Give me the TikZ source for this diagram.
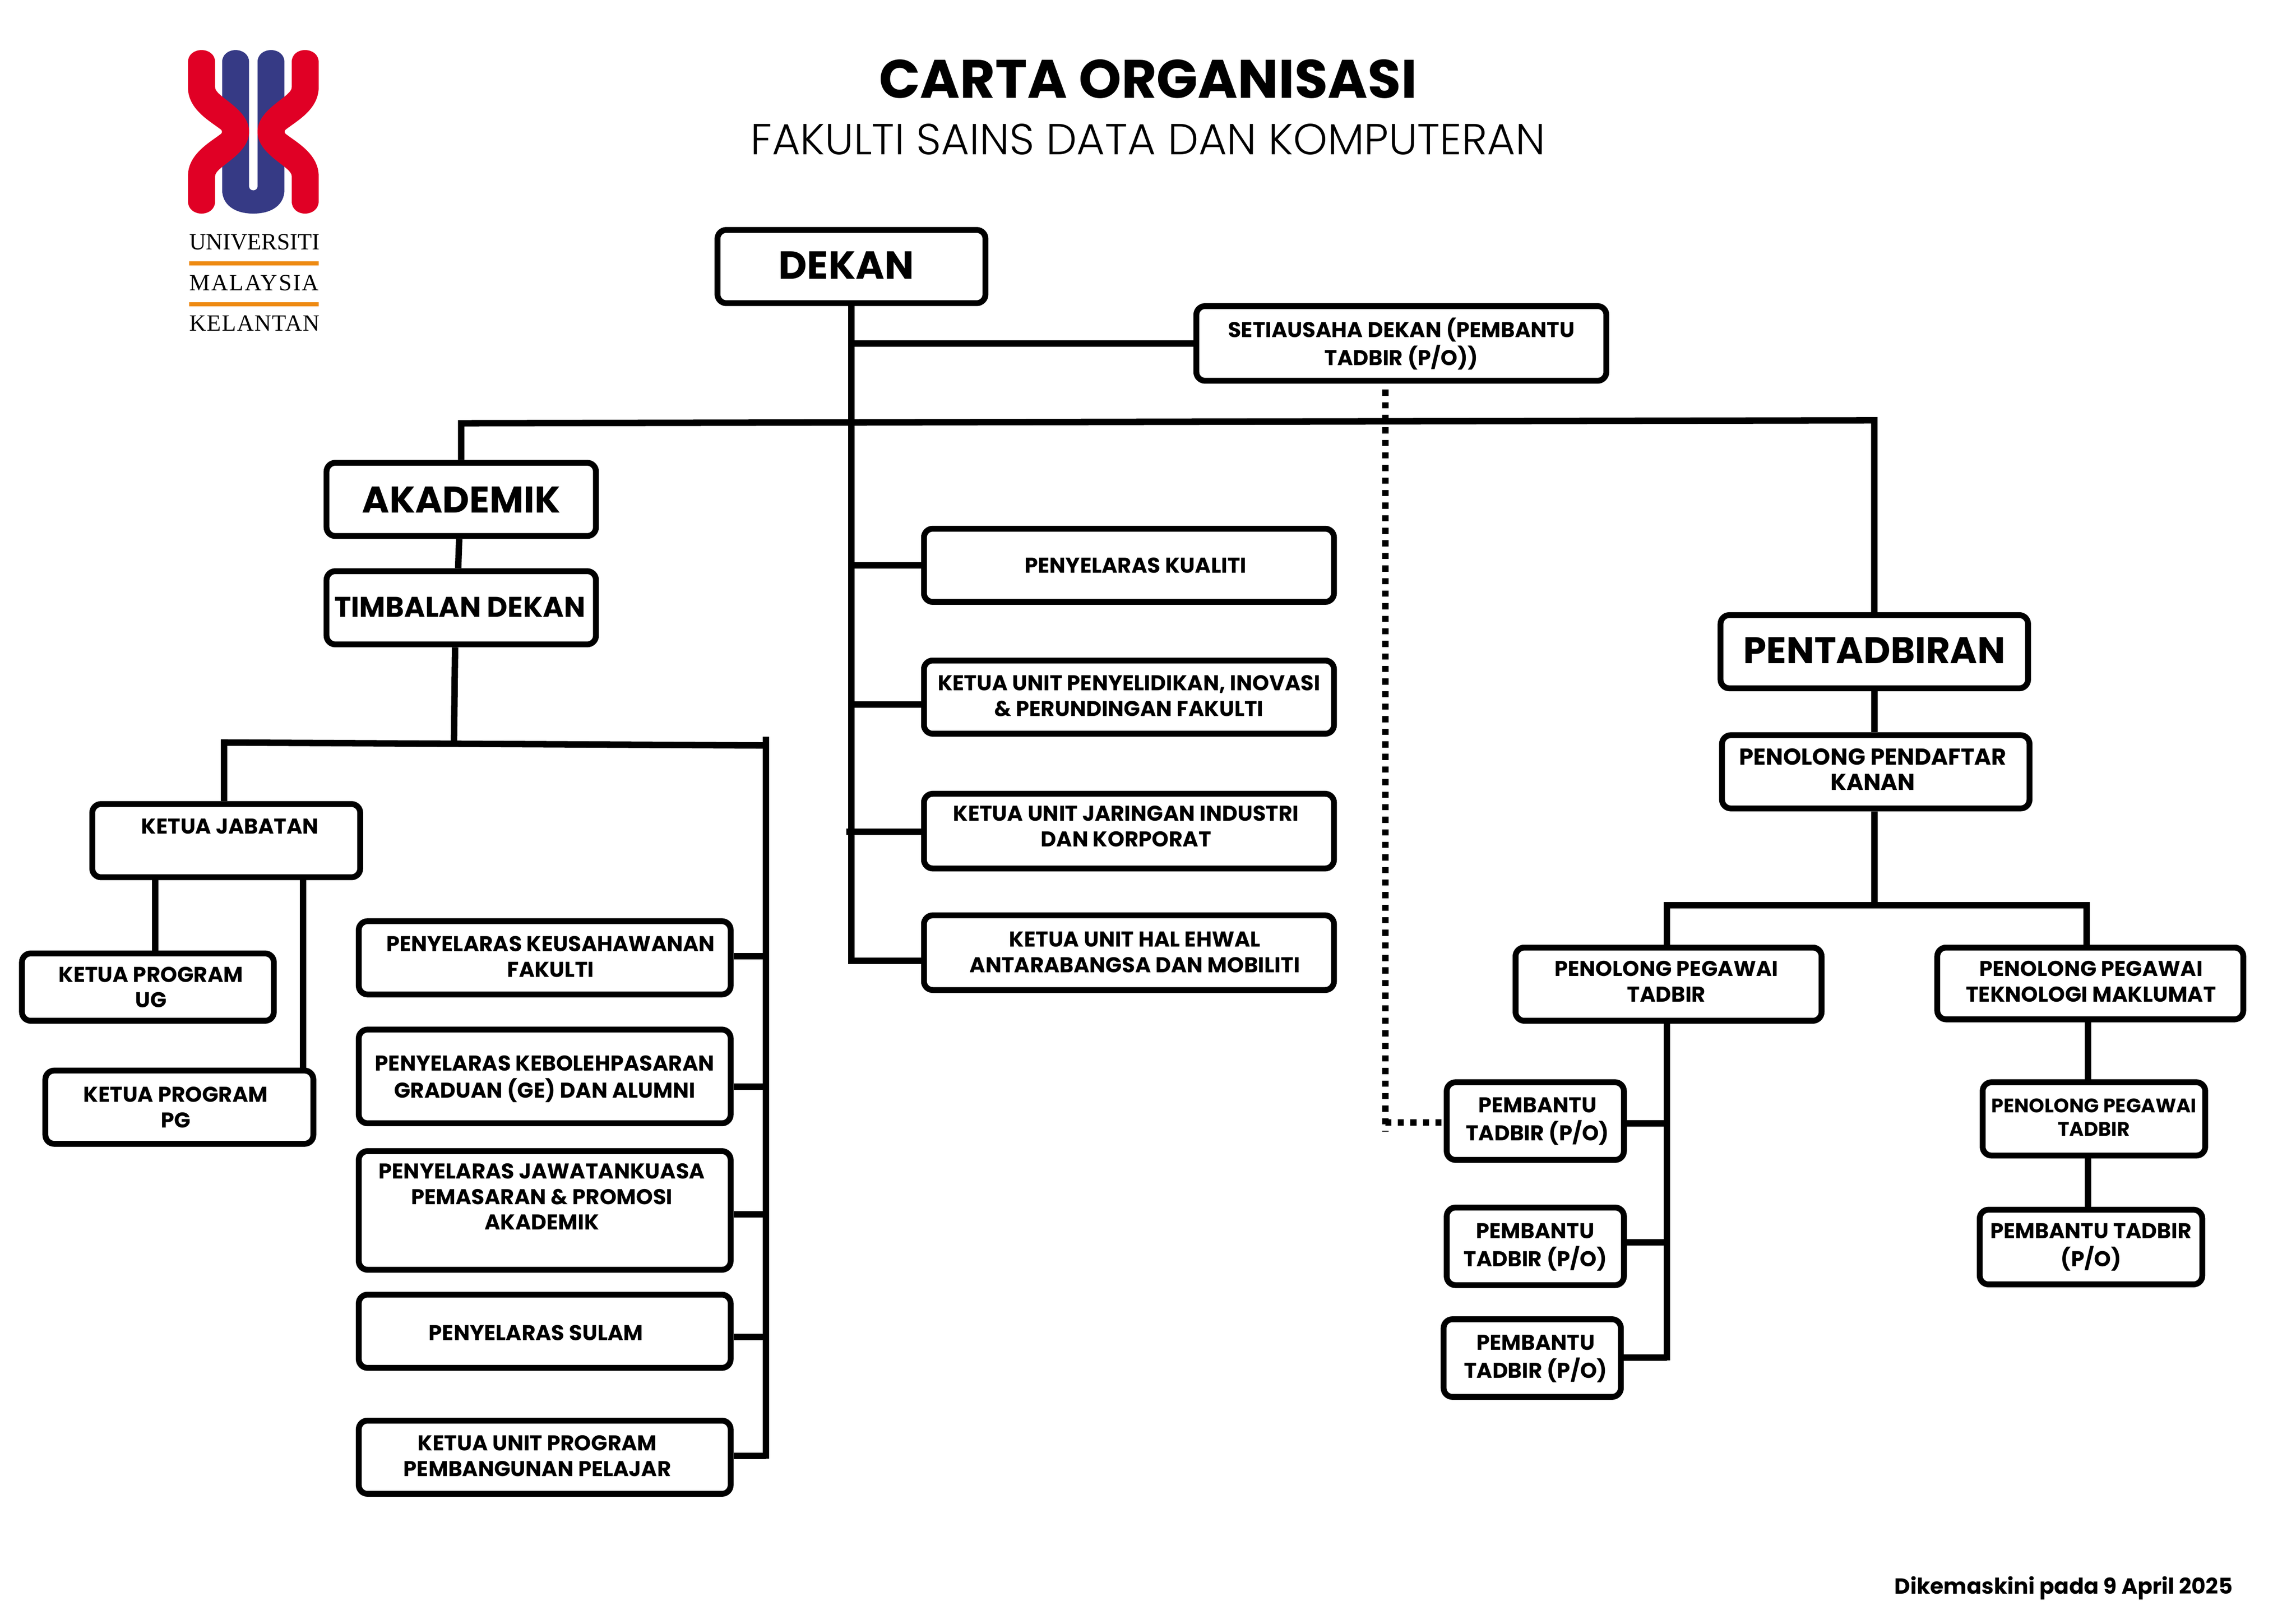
\documentclass[tikz,border=0pt]{standalone}
\usepackage{fontspec}
\setmainfont{Poppins}
\newfontfamily\lightfont{Poppins Light}
\newfontfamily\logofont{Liberation Serif}
\newlength{\unt}
\setlength{\unt}{0.025cm}
\newcommand{\lbl}[3]{\raisebox{\dimexpr-#2\unt-.365em}[0pt][0pt]{\makebox[0pt]{\kern#1\unt\kern#1\unt\begin{tabular}{@{}c@{}}#3\end{tabular}}}}
\definecolor{logored}{HTML}{E00025}
\definecolor{logoblue}{HTML}{363A85}
\definecolor{logoorange}{HTML}{EE8A12}
\tikzset{
	sz/.style 2 args={minimum width=#1*0.025cm, minimum height=#2*0.025cm},
	orgbox/.style={draw=black, fill=white, line width=0.1cm, rounded corners=0.15cm, inner sep=0pt, font=\bfseries\fontsize{10.4}{12.4}\selectfont},
	midbox/.style={orgbox, font=\bfseries\fontsize{13.8}{15.6}\selectfont},
	bigbox/.style={orgbox, font=\bfseries\fontsize{18}{21}\selectfont},
	conn/.style={line width=0.11cm},
	dotconn/.style={line width=0.11cm, dash pattern=on 3pt off 3.1pt},
	logotext/.style={anchor=base west, inner sep=0pt, font=\logofont\fontsize{11.3}{13}\selectfont}
}
\begin{document}
\begin{tikzpicture}[x=0.025cm, y=-0.025cm]
	\useasboundingbox (0,0) rectangle (1568,1108.6);
	% logo
	\begin{scope}[x=0.004cm, y=-0.0036cm, shift={(2.50875cm,-0.50175cm)}]
		\fill[logoblue] (321,155) .. controls (321,120) and (347,98) .. (378,98) .. controls (410,98) and (436,120) .. (436,155) -- (436,745) .. controls (436,755) and (444,763) .. (454,763) .. controls (464,763) and (472,755) .. (472,745) -- (472,155) .. controls (472,120) and (498,98) .. (530,98) .. controls (561,98) and (587,120) .. (587,155) -- (587,760) .. controls (587,830) and (535,873) .. (454,873) .. controls (373,873) and (321,830) .. (321,760) -- cycle;
		\fill[logored] (175,155) .. controls (175,120) and (201,98) .. (233,98) .. controls (265,98) and (291,120) .. (291,155) -- (291,275) .. controls (291,320) and (436,375) .. (436,485) .. controls (436,595) and (291,650) .. (291,695) -- (291,815) .. controls (291,850) and (265,873) .. (233,873) .. controls (201,873) and (175,850) .. (175,815) -- (175,695) .. controls (175,590) and (270,535) .. (316,495) .. controls (322,489) and (322,481) .. (316,475) .. controls (270,435) and (175,380) .. (175,275) -- cycle;
		\fill[logored] (733,155) .. controls (733,120) and (707,98) .. (675,98) .. controls (643,98) and (618,120) .. (618,155) -- (618,275) .. controls (618,320) and (472,375) .. (472,485) .. controls (472,595) and (618,650) .. (618,695) -- (618,815) .. controls (618,850) and (643,873) .. (675,873) .. controls (707,873) and (733,850) .. (733,815) -- (733,695) .. controls (733,590) and (638,535) .. (592,495) .. controls (586,489) and (586,481) .. (592,475) .. controls (638,435) and (733,380) .. (733,275) -- cycle;
		\fill[logoorange] (180,1100) rectangle (733,1118);
		\fill[logoorange] (180,1294) rectangle (733,1312);
	\end{scope}
	\node[logotext] (univ) at (129,170.5) {\addfontfeature{LetterSpace=0}UNIVERSITI};
	\node[logotext] (mal) at (129,198.3) {\addfontfeature{LetterSpace=5.5}MALAYSIA};
	\node[logotext] (kel) at (129,226) {\addfontfeature{LetterSpace=3.5}KELANTAN};
	% title
	\node[inner sep=0pt, font=\bfseries\fontsize{26.3}{32}\selectfont] (title) at (784,54) {CARTA ORGANISASI};
	\node[inner sep=0pt, font=\lightfont\fontsize{21.1}{26}\selectfont] (subtitle) at (784,95) {FAKULTI SAINS DATA DAN KOMPUTERAN};
	\node[anchor=east, inner sep=0pt, font=\bfseries\fontsize{10.6}{12}\selectfont] (updated) at (1525,1084.5) {Dikemaskini pada 9 April 2025};
	% centre column
	\node[bigbox, font=\bfseries\fontsize{19}{21}\selectfont, sz={183}{50}] (dekan) at (581.5,182) {\lbl{-3.5}{-1}{DEKAN}};
	\node[orgbox, sz={280}{51}] (setiausaha) at (957,234.5) {\lbl{0}{-.5}{SETIAUSAHA DEKAN (PEMBANTU\\TADBIR (P/O))}};
	\node[orgbox, sz={280}{50}] (kualiti) at (771,386) {\lbl{4.5}{0}{PENYELARAS KUALITI}};
	\node[orgbox, sz={280}{50}] (penyelidikan) at (771,476) {\lbl{0}{-1}{KETUA UNIT PENYELIDIKAN, INOVASI\\\& PERUNDINGAN FAKULTI}};
	\node[orgbox, sz={280}{51}] (jaringan) at (771,567.5) {\lbl{-2}{-3.5}{KETUA UNIT JARINGAN INDUSTRI\\DAN KORPORAT}};
	\node[orgbox, sz={280}{51}] (ehwal) at (771,650.5) {\lbl{4}{-.5}{KETUA UNIT HAL EHWAL\\ANTARABANGSA DAN MOBILITI}};
	% akademik
	\node[bigbox, sz={184}{50}] (akademik) at (315,341) {\lbl{0}{0}{AKADEMIK}};
	\node[midbox, sz={184}{50}] (timbalan) at (315,415) {\lbl{-1}{0}{TIMBALAN DEKAN}};
	\node[orgbox, sz={183}{50}] (jabatan) at (154.5,574) {\lbl{2.5}{-10}{KETUA JABATAN}};
	\node[orgbox, sz={172}{46}] (progug) at (101,674) {\lbl{2}{0}{KETUA PROGRAM\\UG}};
	\node[orgbox, sz={183}{50}] (progpg) at (122.5,756) {\lbl{-2.5}{0}{KETUA PROGRAM\\PG}};
	\node[orgbox, sz={254}{50}] (keusahawanan) at (372,654) {\lbl{4}{-1}{PENYELARAS KEUSAHAWANAN\\FAKULTI}};
	\node[orgbox, sz={254}{64}] (kebolehpasaran) at (372,735) {\lbl{0}{0}{PENYELARAS KEBOLEHPASARAN\\GRADUAN (GE) DAN ALUMNI}};
	\node[orgbox, sz={254}{81}] (jawatankuasa) at (372,826.5) {\lbl{-2}{-9.5}{PENYELARAS JAWATANKUASA\\PEMASARAN \& PROMOSI\\AKADEMIK}};
	\node[orgbox, sz={254}{50}] (sulam) at (372,909) {\lbl{-6}{1}{PENYELARAS SULAM}};
	\node[orgbox, sz={254}{50}] (pembangunan) at (372,995) {\lbl{-5}{-1}{KETUA UNIT PROGRAM\\PEMBANGUNAN PELAJAR}};
	% pentadbiran
	\node[bigbox, sz={210}{50}] (pentadbiran) at (1280,445) {\lbl{0}{-1}{PENTADBIRAN}};
	\node[midbox, font=\bfseries\fontsize{11.2}{12.4}\selectfont, sz={210}{50}] (pendaftar) at (1281,527) {\lbl{-2}{-1.5}{PENOLONG PENDAFTAR\\KANAN}};
	\node[orgbox, sz={209}{50}] (pegtadbir) at (1139.5,672) {\lbl{-1.5}{-2}{PENOLONG PEGAWAI\\TADBIR}};
	\node[orgbox, sz={209}{49}] (pegtek) at (1427.5,671.5) {\lbl{.5}{-1.5}{PENOLONG PEGAWAI\\TEKNOLOGI MAKLUMAT}};
	\node[orgbox, sz={121}{53}] (pembantua) at (1048.5,765.5) {\lbl{1.5}{-1.5}{PEMBANTU\\TADBIR (P/O)}};
	\node[orgbox, sz={121}{53}] (pembantub) at (1048.5,851) {\lbl{0}{-1}{PEMBANTU\\TADBIR (P/O)}};
	\node[orgbox, sz={121}{53}] (pembantuc) at (1046.4,927.3) {\lbl{2.3}{-1.3}{PEMBANTU\\TADBIR (P/O)}};
	\node[orgbox, font=\bfseries\fontsize{9.55}{11.4}\selectfont, sz={152}{50}] (pegtadbirb) at (1430,764) {\lbl{0}{-1}{PENOLONG PEGAWAI\\TADBIR}};
	\node[orgbox, sz={152}{51}] (pembantud) at (1428,851.5) {\lbl{0}{-1.5}{PEMBANTU TADBIR\\(P/O)}};
	% junctions
	\coordinate (stemend) at (581.5,656);
	\coordinate (topleft) at (315,289);
	\coordinate (topright) at (1280,287);
	\coordinate (jjaringan) at (578,568);
	\coordinate (jpenyelidikan) at (581.5,481);
	\coordinate (acadjoin) at (310,508);
	\coordinate (acadleft) at (153,507);
	\coordinate (acadright) at (523,509);
	\coordinate (acadtop) at (523,503);
	\coordinate (acadend) at (523,996);
	\coordinate (jkeusahawanan) at (523,653);
	\coordinate (jkebolehpasaran) at (523,742);
	\coordinate (jjawatankuasa) at (523,829);
	\coordinate (jsulam) at (523,913);
	\coordinate (jpembangunan) at (523,994);
	\coordinate (jjabatana) at (106,600);
	\coordinate (jjabatanb) at (207,600);
	\coordinate (adminleft) at (1138.5,618);
	\coordinate (adminright) at (1425,618);
	\coordinate (adminjoin) at (1280,618);
	\coordinate (tadbirtop) at (1138.5,698);
	\coordinate (tadbirend) at (1138.5,929);
	\coordinate (jpembantua) at (1138.5,767);
	\coordinate (jpembantub) at (1138.5,848.4);
	\coordinate (jpembantuc) at (1138.5,927);
	\coordinate (jtek) at (1426,697);
	\coordinate (jtekb) at (1426,790);
	\coordinate (dotstart) at (946,266);
	\coordinate (dotend) at (946,772.6);
	\coordinate (dotjoin) at (946,766.5);
	% connectors
	\draw[conn] (dekan.south) -- (stemend) -- (stemend -| ehwal.west);
	\draw[conn] (setiausaha.west) -- (setiausaha.west -| dekan.south);
	\draw[conn] (kualiti.west) -- (kualiti.west -| dekan.south);
	\draw[conn] (jpenyelidikan) -- (jpenyelidikan -| penyelidikan.west);
	\draw[conn] (jjaringan) -- (jjaringan -| jaringan.west);
	\draw[conn] (akademik.north) -- (topleft) -- (topright) -- (topright |- pentadbiran.north);
	\draw[conn] ([xshift=-1pt]akademik.south) -- ([xshift=-1.5pt]timbalan.north);
	\draw[conn] ([xshift=-3pt]timbalan.south) -- (acadjoin);
	\draw[conn] (jabatan.north -| acadleft) -- (acadleft) -- (acadright);
	\draw[conn] (acadtop) -- (acadend);
	\draw[conn] (jkeusahawanan) -- (jkeusahawanan -| keusahawanan.east);
	\draw[conn] (jkebolehpasaran) -- (jkebolehpasaran -| kebolehpasaran.east);
	\draw[conn] (jjawatankuasa) -- (jjawatankuasa -| jawatankuasa.east);
	\draw[conn] (jsulam) -- (jsulam -| sulam.east);
	\draw[conn] (jpembangunan) -- (jpembangunan -| pembangunan.east);
	\draw[conn] (jjabatana) -- (jjabatana |- progug.north);
	\draw[conn] (jjabatanb) -- (jjabatanb |- progpg.north);
	\draw[conn] (pentadbiran.south) -- (pentadbiran.south |- pendaftar.north);
	\draw[conn] (pentadbiran.south |- pendaftar.south) -- (adminjoin);
	\draw[conn] (pegtadbir.north -| adminleft) -- (adminleft) -- (adminright) -- (adminright |- pegtek.north);
	\draw[conn] (tadbirtop) -- (tadbirend);
	\draw[conn] (jpembantua) -- (jpembantua -| pembantua.east);
	\draw[conn] (jpembantub) -- (jpembantub -| pembantub.east);
	\draw[conn] (jpembantuc) -- (jpembantuc -| pembantuc.east);
	\draw[conn] (jtek) -- (jtek |- pegtadbirb.north);
	\draw[conn] (jtekb) -- (jtekb |- pembantud.north);
	\draw[dotconn] (dotstart) -- (dotend);
	\draw[dotconn] (dotjoin) -- (pembantua.west |- dotjoin);
\end{tikzpicture}
\end{document}
